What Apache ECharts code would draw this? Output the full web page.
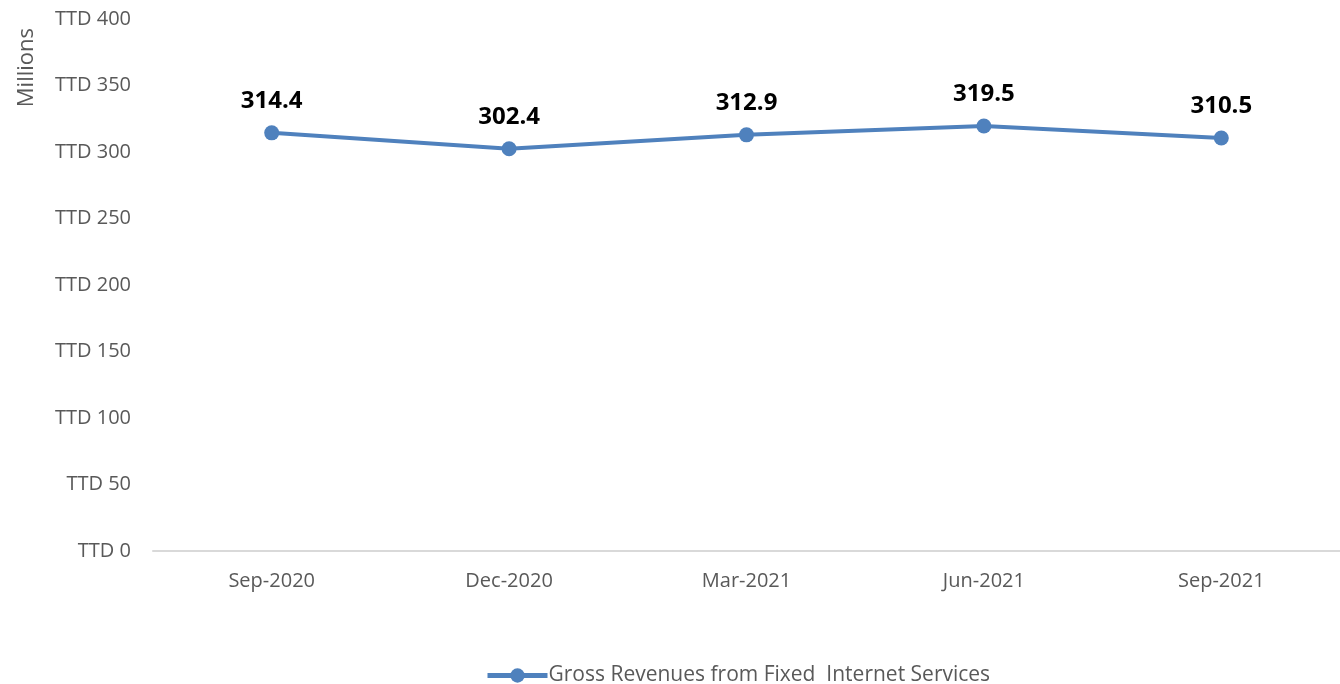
<!DOCTYPE html>
<html>
<head>
<meta charset="utf-8">
<script src="https://cdn.jsdelivr.net/npm/echarts@6/dist/echarts.min.js"></script>
<style>
  html, body { margin: 0; padding: 0; background: #ffffff; }
  #chart { width: 1340px; height: 684px; }
</style>
</head>
<body>
<div id="chart"></div>
<script>
// Quarterly gross revenues from fixed internet services (TTD millions)
const quarters = ['Sep-2020', 'Dec-2020', 'Mar-2021', 'Jun-2021', 'Sep-2021'];
const revenues = [314.4, 302.4, 312.9, 319.5, 310.5];
const seriesName = 'Gross Revenues from Fixed  Internet Services';

const FONT = '"Open Sans", "Noto Sans", sans-serif';
const BLUE = '#4f81bd';

const chart = echarts.init(document.getElementById('chart'), null, { renderer: 'canvas' });

chart.setOption({
  backgroundColor: '#ffffff',
  animation: false,
  textStyle: { fontFamily: FONT },
  grid: { left: 153, top: 19, bottom: 133, width: 1193, containLabel: false },
  xAxis: {
    type: 'category',
    data: quarters,
    boundaryGap: true,
    axisLine: { show: true, lineStyle: { color: '#d9d9d9', width: 2 } },
    axisTick: { show: false },
    axisLabel: { color: '#595959', fontSize: 20, fontFamily: FONT, margin: 20 }
  },
  yAxis: {
    type: 'value',
    min: 0,
    max: 400,
    interval: 50,
    axisLine: { show: false },
    axisTick: { show: false },
    splitLine: { show: false },
    axisLabel: {
      color: '#595959', fontSize: 20, fontFamily: FONT, margin: 22,
      formatter: v => 'TTD ' + v
    }
  },
  legend: {
    top: 660,
    left: 480,
    itemWidth: 60,
    itemHeight: 18,
    itemGap: 0,
    lineStyle: { width: 5, color: BLUE },
    itemStyle: { color: BLUE },
    textStyle: { color: '#595959', fontSize: 21, fontFamily: FONT, padding: [0, 0, 0, -4] },
    data: [seriesName]
  },
  graphic: [{
    type: 'text',
    left: 16,
    top: 28,
    rotation: Math.PI / 2,
    style: { text: 'Millions', fill: '#595959', font: '22px ' + FONT }
  }],
  series: [{
    name: seriesName,
    type: 'line',
    data: revenues,
    symbol: 'circle',
    symbolSize: 15,
    lineStyle: { color: BLUE, width: 4 },
    itemStyle: { color: BLUE },
    label: {
      show: true,
      position: 'top',
      distance: 12,
      color: '#000000',
      fontSize: 24,
      fontWeight: 'bold',
      fontFamily: FONT,
      formatter: p => p.value.toFixed(1)
    }
  }]
});
</script>
</body>
</html>
